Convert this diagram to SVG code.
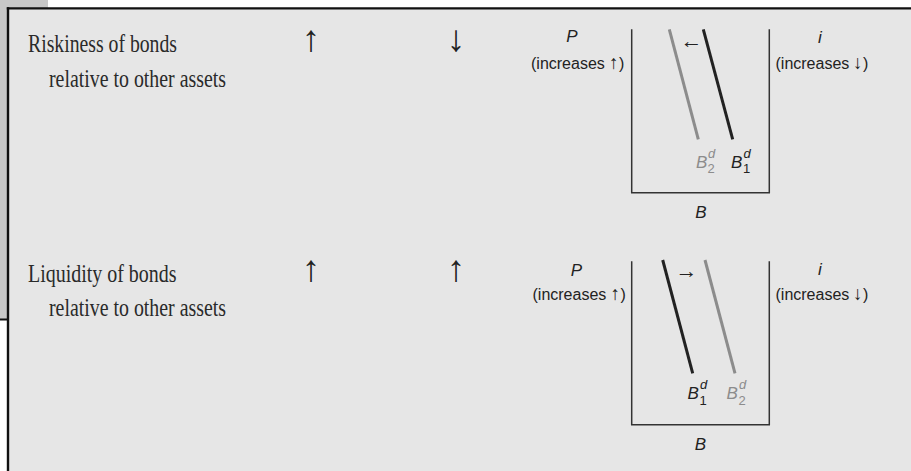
<svg xmlns="http://www.w3.org/2000/svg" width="911" height="471" viewBox="0 0 911 471">
<style>
.lbl{font-family:"Liberation Serif","Times New Roman",serif;font-size:26px;fill:#2a2a2a}
.ax{font-family:"Liberation Sans",Arial,sans-serif;font-size:17px;fill:#222}
.inc{font-family:"Liberation Sans",Arial,sans-serif;font-size:16px;fill:#222}
.it{font-style:italic}
.sup{font-family:"Liberation Sans",Arial,sans-serif;font-size:13px;font-style:italic}
.sub{font-family:"Liberation Sans",Arial,sans-serif;font-size:13px}
.axis{fill:none;stroke:#333;stroke-width:1.5}
.dk{stroke:#222;stroke-width:3}
.lt{stroke:#8c8c8c;stroke-width:3}
.arr{font-family:"Liberation Serif","Times New Roman",serif;font-size:37px;fill:#222;text-anchor:middle}
.sa{font-family:"Liberation Serif","Times New Roman",serif;font-size:19px;fill:#222}
.sh{font-family:"Liberation Sans",Arial,sans-serif;font-size:22px;fill:#222;text-anchor:middle}
.gray{fill:#8c8c8c}
.blk{fill:#222}
</style>
<rect x="0" y="0" width="911" height="471" fill="#ffffff"/>
<rect x="0" y="0" width="48" height="9" fill="#c8c8c8"/>
<rect x="0" y="0" width="8" height="320" fill="#c8c8c8"/>
<rect x="8" y="8" width="903" height="463" fill="#e6e6e6"/>
<g id="frame" stroke="#111" fill="none">
<line x1="6.8" y1="8.3" x2="911" y2="8.3" stroke-width="2.2"/>
<line x1="8" y1="7.3" x2="8" y2="471" stroke-width="2.4"/>
<line x1="0" y1="319.5" x2="8" y2="319.5" stroke-width="2"/>
</g>

<g id="row1-label">
<text class="lbl" x="28" y="52" textLength="149" lengthAdjust="spacingAndGlyphs">Riskiness of bonds</text>
<text class="lbl" x="49" y="87" textLength="177" lengthAdjust="spacingAndGlyphs">relative to other assets</text>
</g>
<g id="row1-col1"><text class="arr" x="311" y="51">↑</text></g>
<g id="row1-col2"><text class="arr" x="456" y="51">↓</text></g>

<g id="row1-chart">
<path class="axis" d="M631.7,29.3 V192.7 H769.3 V29.3"/>
<g id="row1-curves">
<line class="lt" x1="669.3" y1="29.3" x2="698.3" y2="139.3"/>
<line class="dk" x1="703.3" y1="29.3" x2="732.7" y2="139.3"/>
</g>
<text class="sh" x="691.5" y="48">←</text>
<text class="ax it" x="572" y="42" text-anchor="middle">P</text>
<text class="inc" x="531" y="69">(increases</text>
<text class="sa" x="609" y="69">↑</text>
<text class="inc" x="619" y="69">)</text>
<text class="ax it" x="820" y="43" text-anchor="middle">i</text>
<text class="inc" x="775.5" y="69">(increases</text>
<text class="sa" x="853" y="69">↓</text>
<text class="inc" x="863" y="69">)</text>
<text class="ax it" x="701" y="218" text-anchor="middle">B</text>
<g class="gray"><text class="ax it gray" x="696" y="168" font-size="18">B</text><text class="sup" x="708" y="158">d</text><text class="sub" x="707.5" y="173">2</text></g>
<g class="blk"><text class="ax it blk" x="731" y="168" font-size="18">B</text><text class="sup" x="743.5" y="158">d</text><text class="sub" x="743" y="173">1</text></g>
</g>

<g id="row2-label">
<text class="lbl" x="28" y="282" textLength="148.5" lengthAdjust="spacingAndGlyphs">Liquidity of bonds</text>
<text class="lbl" x="49" y="316" textLength="177" lengthAdjust="spacingAndGlyphs">relative to other assets</text>
</g>
<g id="row2-col1"><text class="arr" x="311" y="281">↑</text></g>
<g id="row2-col2"><text class="arr" x="456" y="281">↑</text></g>

<g id="row2-chart" transform="translate(0,232)">
<path class="axis" d="M631.7,29.3 V192.7 H769.3 V29.3"/>
<g id="row2-curves">
<line class="dk" x1="662.7" y1="28" x2="692.7" y2="141.3"/>
<line class="lt" x1="705" y1="28" x2="735" y2="141.3"/>
</g>
<text class="sh" x="686.5" y="46">→</text>
<text class="ax it" x="576.5" y="44" text-anchor="middle">P</text>
<text class="inc" x="532.5" y="68">(increases</text>
<text class="sa" x="610.5" y="68">↑</text>
<text class="inc" x="620.5" y="68">)</text>
<text class="ax it" x="820" y="43" text-anchor="middle">i</text>
<text class="inc" x="775.5" y="68">(increases</text>
<text class="sa" x="853" y="68">↓</text>
<text class="inc" x="863" y="68">)</text>
<text class="ax it" x="700.5" y="218" text-anchor="middle">B</text>
<g class="blk"><text class="ax it blk" x="687.5" y="167" font-size="18">B</text><text class="sup" x="700" y="157">d</text><text class="sub" x="699.5" y="173">1</text></g>
<g class="gray"><text class="ax it gray" x="726.5" y="167" font-size="18">B</text><text class="sup" x="739" y="157">d</text><text class="sub" x="738.5" y="173">2</text></g>
</g>
</svg>
